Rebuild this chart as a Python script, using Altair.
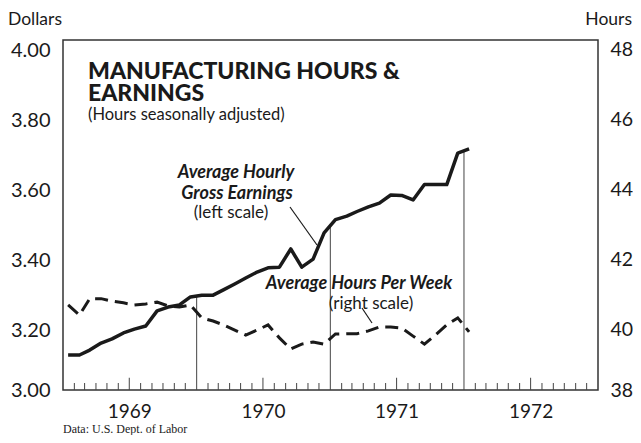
import altair as alt
import pandas as pd

# ---------------- data ----------------
# monthly points, Jan 1969 .. Jan 1972 (plotted mid-month)
earnings = [3.100, 3.100, 3.114, 3.134, 3.146, 3.163, 3.174, 3.183, 3.226, 3.237, 3.243, 3.266,
            3.271, 3.271, 3.286, 3.303, 3.320, 3.337, 3.349, 3.351, 3.403, 3.351, 3.374, 3.449,
            3.487, 3.497, 3.510, 3.523, 3.534, 3.557, 3.556, 3.543, 3.587, 3.587, 3.587, 3.677, 3.689]
hours = [40.43, 40.14, 40.61, 40.61, 40.54, 40.49, 40.43, 40.46, 40.51, 40.40, 40.37, 40.43,
         40.06, 39.97, 39.86, 39.71, 39.57, 39.71, 39.86, 39.49, 39.17, 39.31, 39.37, 39.31,
         39.60, 39.61, 39.61, 39.69, 39.80, 39.80, 39.77, 39.54, 39.31, 39.57, 39.86, 40.06, 39.66]
boundary_dates = ["1970-01-01", "1971-01-01", "1972-01-01"]
boundary_tops = [3.27, 3.467, 3.685]
year_labels = [1969, 1970, 1971, 1972]
dollar_ticks = [3.0, 3.2, 3.4, 3.6, 3.8, 4.0]
hour_ticks = [38, 40, 42, 44, 46, 48]

months = pd.date_range("1969-01-01", periods=len(earnings), freq="MS") + pd.Timedelta(days=14)
df = pd.DataFrame({"date": months, "earnings": earnings, "hours": hours})

tick_dates = [d for d in pd.date_range("1969-02-01", "1972-12-01", freq="MS") if d.month != 1]
ticks = pd.DataFrame({
    "date": tick_dates,
    "lo": [3.0] * len(tick_dates),
    "hi": [3.035 if d.month == 7 else 3.02 for d in tick_dates],
})
bounds = pd.DataFrame({"date": pd.to_datetime(boundary_dates),
                       "lo": [3.0] * 3, "hi": boundary_tops})

FONT = "Lato"
INK = "#1a1a1a"

xscale = alt.Scale(domain=[alt.DateTime(year=1969, month=1, date=1),
                           alt.DateTime(year=1973, month=1, date=1)])
xaxis = alt.Axis(values=[alt.DateTime(year=y, month=7, date=1) for y in year_labels],
                 format="%Y", ticks=False, domain=False, grid=False, title=None,
                 labelFont=FONT, labelFontSize=19, labelColor=INK, labelPadding=12)
ydom = alt.Scale(domain=[3.0, 4.0], nice=False, zero=False)
yaxis = alt.Axis(values=dollar_ticks, format=".2f", ticks=False, domain=False, grid=False,
                 title=None, labelFont=FONT, labelFontSize=20, labelColor=INK, labelPadding=13,
                 labelBaseline={"condition": {"test": "datum.value == 3", "value": "middle"},
                                "value": "top"})

tick_layer = alt.Chart(ticks).mark_rule(color="#444", strokeWidth=1).encode(
    x=alt.X("date:T", scale=xscale, axis=xaxis),
    y=alt.Y("lo:Q", scale=ydom, axis=yaxis),
    y2="hi:Q",
)
bound_layer = alt.Chart(bounds).mark_rule(color="#444", strokeWidth=1).encode(
    x=alt.X("date:T", scale=xscale, axis=xaxis),
    y=alt.Y("lo:Q", scale=ydom, axis=yaxis),
    y2="hi:Q",
)
earn_line = alt.Chart(df).mark_line(color=INK, strokeWidth=3.5, strokeJoin="round").encode(
    x=alt.X("date:T", scale=xscale, axis=xaxis),
    y=alt.Y("earnings:Q", scale=ydom, axis=yaxis),
)
dollar_layer = alt.layer(tick_layer, bound_layer, earn_line)

hours_line = alt.Chart(df).mark_line(color=INK, strokeWidth=3, strokeDash=[13, 7]).encode(
    x=alt.X("date:T", scale=xscale, axis=xaxis),
    y=alt.Y("hours:Q", scale=alt.Scale(domain=[38, 48], nice=False, zero=False),
            axis=alt.Axis(orient="right", values=hour_ticks, ticks=False, domain=False,
                          grid=False, title=None, labelFont=FONT, labelFontSize=19.5,
                          labelColor=INK, labelPadding=12,
                          labelBaseline={"condition": {"test": "datum.value == 38",
                                                       "value": "middle"},
                                         "value": "top"})),
)

def txt(s, x, y, size, weight="normal", style="normal", align="left", font=FONT):
    return alt.Chart(pd.DataFrame({"t": [s]})).mark_text(
        font=font, fontSize=size, fontWeight=weight, fontStyle=style, align=align,
        baseline="middle", color=INK
    ).encode(text="t:N", x=alt.value(x), y=alt.value(y))

def seg(x1, y1, x2, y2):
    return alt.Chart(pd.DataFrame({"a": [0]})).mark_rule(color=INK, strokeWidth=1.2).encode(
        x=alt.value(x1), y=alt.value(y1), x2=alt.value(x2), y2=alt.value(y2))

texts = [
    txt("MANUFACTURING HOURS &", 25, 32, 23, weight=900),
    txt("EARNINGS", 25, 54, 23, weight=900),
    txt("(Hours seasonally adjusted)", 25, 75, 16.5),
    txt("Average Hourly", 173, 133, 18, weight="bold", style="italic", align="center"),
    txt("Gross Earnings", 174, 154, 18, weight="bold", style="italic", align="center"),
    txt("(left scale)", 168, 173, 17, align="center"),
    txt("Average Hours Per Week", 296, 244, 18, weight="bold", style="italic", align="center"),
    txt("(right scale)", 308, 264, 17, align="center"),
    txt("Dollars", -55, -20, 17.5),
    txt("Hours", 569, -20, 17.5, align="right"),
    txt("Data:  U.S. Dept. of Labor", 0, 389, 12, font="Liberation Sans Narrow"),
    seg(227, 167, 254, 205),
    seg(299, 268, 309, 283),
]

chart = alt.layer(dollar_layer, hours_line, *texts).resolve_scale(y="independent").properties(
    width=535, height=350,
    autosize=alt.AutoSizeParams(type="none"),
    padding={"left": 55, "top": 32, "right": 35, "bottom": 45},
    background="white",
).configure_view(stroke="#333", strokeWidth=1.5)

chart.save("out.html", embed_options={"renderer": "svg", "actions": False})
